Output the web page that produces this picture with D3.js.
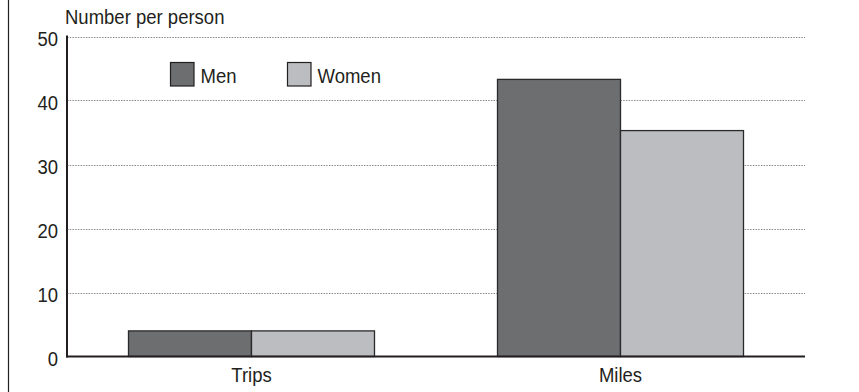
<!DOCTYPE html>
<html><head><meta charset="utf-8">
<script src="https://cdn.jsdelivr.net/npm/d3@7"></script>
<style>
body{margin:0;background:#fff;}
svg text{font-family:"Liberation Sans",Arial,sans-serif;fill:#231f20;}
</style></head><body>
<svg id="c" width="859" height="392"></svg>
<script>
const categories = ["Trips", "Miles"];
const series = ["Men", "Women"];
const menValues = [4.0, 43.3];
const womenValues = [4.0, 35.3];
const yTicks = [0, 10, 20, 30, 40, 50];
const colors = ["#6d6e70", "#bcbdc0"];
const yTitle = "Number per person";

const values = [menValues, womenValues];
const data = categories.map((c, i) => ({cat: c, vals: series.map((s, j) => ({s, j, v: values[j][i]}))}));

const FS = 19.5, SX = 0.95;
function condense(sel) {
  sel.each(function() {
    const t = d3.select(this);
    const x = +t.attr("x") || 0;
    t.attr("x", x / SX).attr("transform", `scale(${SX},1)`).attr("font-size", FS);
  });
}

const svg = d3.select("#c");
const m = {l: 67, r: 54, t: 36.5, b: 35.5};
const W = 859, H = 392;

svg.append("line").attr("x1", 8.5).attr("x2", 8.5).attr("y1", 0).attr("y2", H)
  .attr("stroke", "#231f20").attr("stroke-width", 1.2);

const x0 = d3.scaleBand().domain(categories).range([m.l, W - m.r]).paddingInner(0).paddingOuter(0);
const x1 = d3.scaleBand().domain(series).range([0, x0.bandwidth()]).paddingInner(0).paddingOuter(0.5);
const y = d3.scaleLinear().domain([0, 50]).range([H - m.b, m.t]);

// gridlines
svg.append("g").selectAll("line").data(yTicks.filter(t => t > 0)).join("line")
  .attr("x1", m.l).attr("x2", W - m.r)
  .attr("y1", d => Math.round(y(d)) + 0.5).attr("y2", d => Math.round(y(d)) + 0.5)
  .attr("stroke", "#8a8a8a").attr("stroke-width", 1).attr("stroke-dasharray", "1.5,1.2");

// bars
const g = svg.append("g").selectAll("g").data(data).join("g")
  .attr("transform", d => `translate(${x0(d.cat)},0)`);
g.selectAll("rect").data(d => d.vals).join("rect")
  .attr("x", d => x1(d.s)).attr("width", x1.bandwidth())
  .attr("y", d => y(d.v)).attr("height", d => y(0) - y(d.v))
  .attr("fill", d => colors[d.j]).attr("stroke", "#2a2a2a").attr("stroke-width", 1.3);

// y axis
const yAxis = d3.axisLeft(y).tickValues(yTicks).tickSize(0).tickPadding(9);
const ya = svg.append("g").attr("transform", `translate(${m.l},0)`).call(yAxis);
ya.select(".domain").remove();
ya.selectAll("text").attr("dy", "0.48em").call(condense)
  .style("font-family", '"Liberation Sans",Arial,sans-serif').style("fill", "#231f20");
svg.append("line").attr("x1", m.l).attr("x2", m.l).attr("y1", m.t - 1).attr("y2", y(0) + 1)
  .attr("stroke", "#231f20").attr("stroke-width", 2);

// x axis
const xAxis = d3.axisBottom(x0).tickSize(0).tickPadding(12);
const xa = svg.append("g").attr("transform", `translate(0,${y(0)})`).call(xAxis);
xa.select(".domain").remove();
xa.selectAll("text").call(condense)
  .style("font-family", '"Liberation Sans",Arial,sans-serif').style("fill", "#231f20");
svg.append("line").attr("x1", m.l - 1).attr("x2", W - m.r).attr("y1", y(0)).attr("y2", y(0))
  .attr("stroke", "#231f20").attr("stroke-width", 2);

// title
svg.append("text").attr("x", 65).attr("y", 24).text(yTitle).call(condense);

// legend
const legX = [170, 287];
const lg = svg.append("g").selectAll("g").data(series).join("g")
  .attr("transform", (d, i) => `translate(${legX[i]},62)`);
lg.append("rect").attr("x", 0.5).attr("y", 0.5).attr("width", 23.5).attr("height", 23.5)
  .attr("fill", (d, i) => colors[i]).attr("stroke", "#231f20").attr("stroke-width", 1.2);
lg.append("text").attr("x", 30.5).attr("y", 21).text(d => d).call(condense);
</script></body></html>
